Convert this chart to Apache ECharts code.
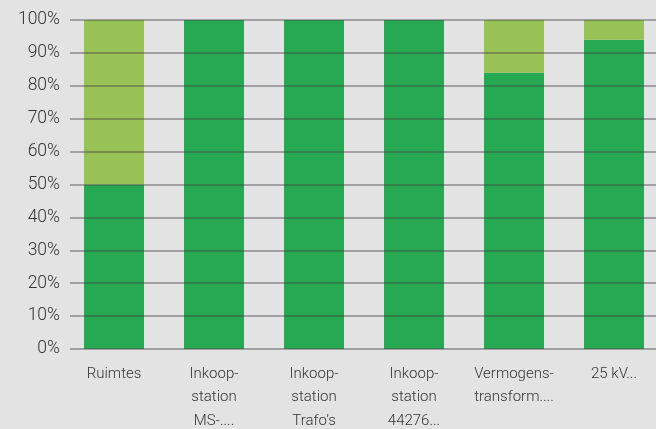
<!DOCTYPE html>
<html><head><meta charset="utf-8">
<script src="https://cdn.jsdelivr.net/npm/echarts@6/dist/echarts.min.js"></script>
<style>html,body{margin:0;padding:0;background:#e3e3e3}#c{width:656px;height:429px}</style>
</head><body><div id="c"></div>
<script>
const categories = ["Ruimtes", "Inkoop-\nstation\nMS-....", "Inkoop-\nstation\nTrafo’s", "Inkoop-\nstation\n44276...", "Vermogens-\ntransform....", "25 kV..."];
const darkValues = [50, 100, 100, 100, 84, 94];
const lightValues = [50, 0, 0, 0, 16, 6];
const yTicks = [0, 10, 20, 30, 40, 50, 60, 70, 80, 90, 100];

const font = "Roboto";
const chart = echarts.init(document.getElementById('c'), null, {renderer: 'canvas'});
chart.setOption({
  backgroundColor: '#e3e3e3',
  animation: false,
  grid: [
    {left: 64, top: 20, width: 600, bottom: 80, outerBoundsMode: 'none', containLabel: false},
    {left: 70, top: 20, right: 0, bottom: 80, z: 5, outerBoundsMode: 'none', containLabel: false}
  ],
  xAxis: [
    {type: 'category', gridIndex: 0, data: categories,
     axisLine: {show: false}, axisTick: {show: false},
     axisLabel: {interval: 0, color: '#333', fontFamily: font, fontWeight: 300, fontSize: 15, lineHeight: 23.5, margin: 13}},
    {type: 'value', gridIndex: 1, show: false, min: 0, max: 1}
  ],
  yAxis: [
    {type: 'value', gridIndex: 0, min: 0, max: 100, interval: 10, show: false, splitLine: {show: false}},
    {type: 'value', gridIndex: 1, min: 0, max: 100, interval: 10, z: 5,
     axisLine: {show: false}, axisTick: {show: false},
     splitLine: {show: true, lineStyle: {color: 'rgba(70,70,70,0.55)', width: 1.5}},
     axisLabel: {color: '#333', fontFamily: font, fontWeight: 300, fontSize: 17.5, margin: 10,
       formatter: v => yTicks.includes(v) ? v + '%' : ''}}
  ],
  series: [
    {type: 'bar', xAxisIndex: 0, yAxisIndex: 0, stack: 's', data: darkValues, barWidth: 60,
     itemStyle: {color: '#27a853'}},
    {type: 'bar', xAxisIndex: 0, yAxisIndex: 0, stack: 's', data: lightValues, barWidth: 60,
     itemStyle: {color: '#98c255'}}
  ]
});
</script></body></html>
